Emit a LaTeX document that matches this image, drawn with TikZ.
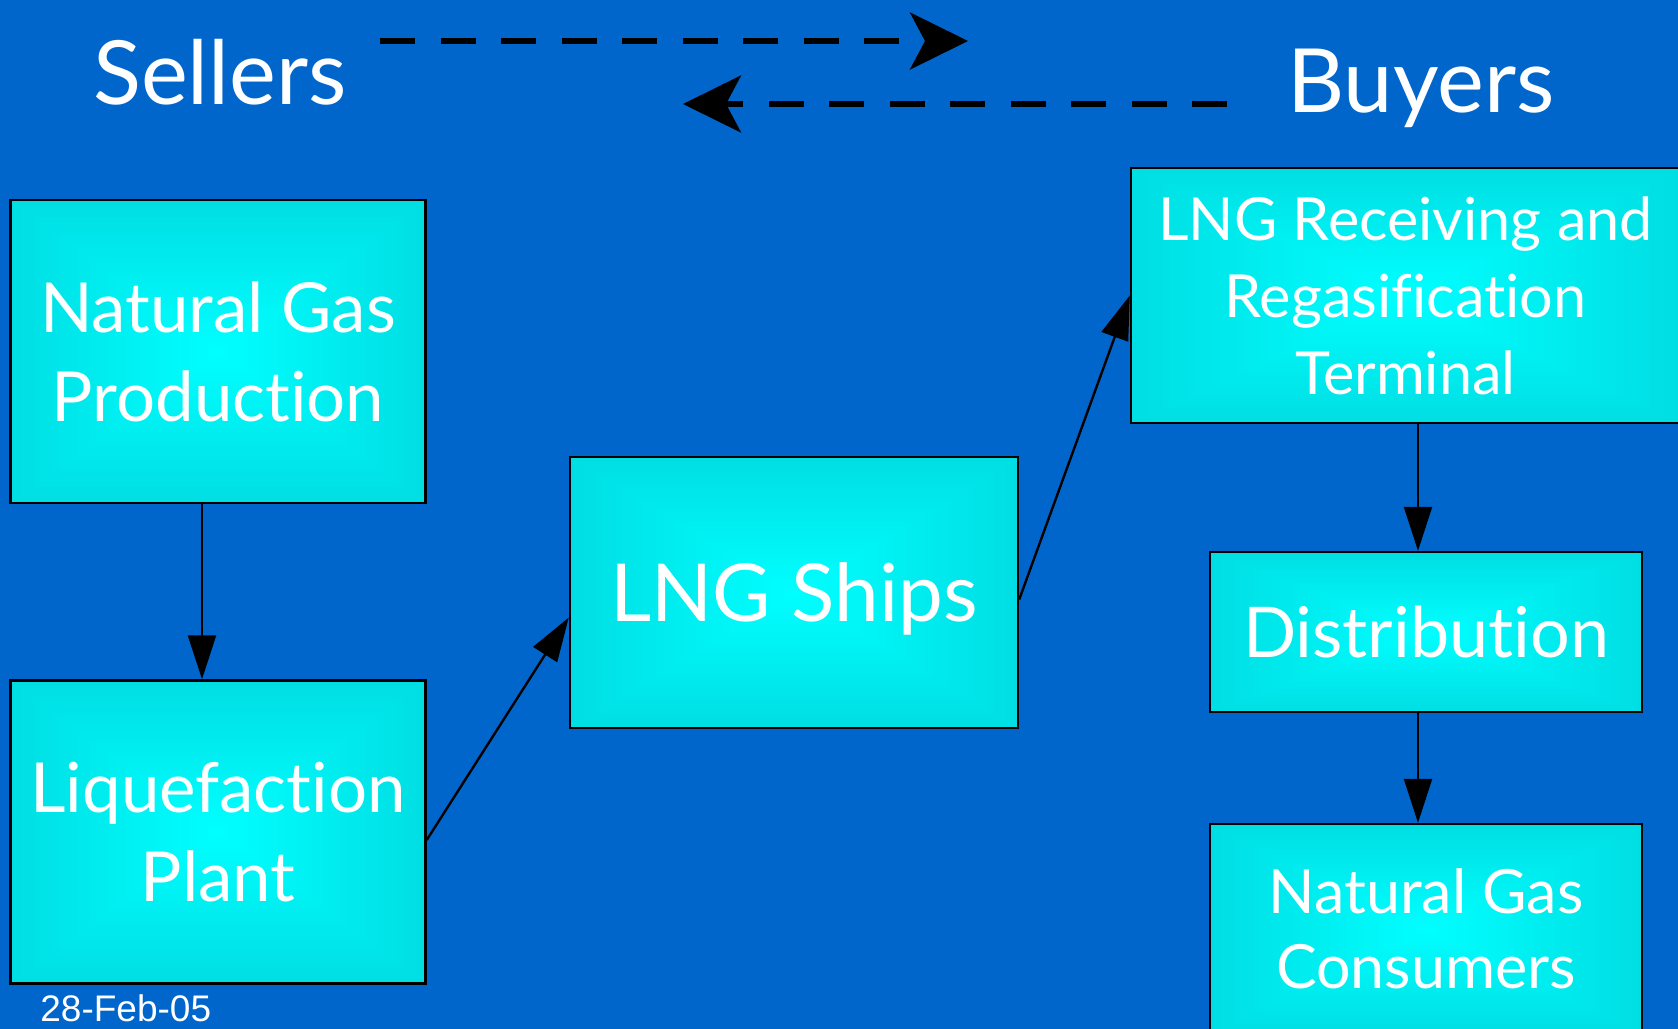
\documentclass[tikz,border=0pt]{standalone}
\usepackage{fontspec}
\setmainfont{Lato}[Ligatures=NoCommon]
\newfontfamily\datefont{Liberation Sans}
\usetikzlibrary{arrows.meta}
\definecolor{slidebg}{RGB}{0,102,204}
% cyan glow, brightest in the middle of the box
\pgfdeclarefunctionalshading{boxglow}{\pgfpoint{-50bp}{-50bp}}{\pgfpoint{50bp}{50bp}}{}{%
  abs exch abs 2 copy lt {exch} if pop
  50 div dup 0.26 mul 1 exch sub exch 0.22 mul 1 exch sub
  0 3 1 roll
}
\begin{document}
\begin{tikzpicture}
		[x=0.5pt,y=-0.5pt,
		stage/.style={rectangle,draw,line width=1.2pt,shade,shading=boxglow,text=white,align=center,inner sep=0pt},
		flow/.style={-{Triangle[length=22pt,width=14pt]},line width=1.2pt},
		trade/.style={dash pattern=on 17.5pt off 12.75pt,line width=2.75pt,-{Stealth[length=29pt,width=28.5pt,inset=7.5pt]}}]
		\useasboundingbox (0,0) rectangle (1678,1029);
		\clip (0,0) rectangle (1678,1029);
		\fill[slidebg] (0,0) rectangle (1678,1029);
		\node (Sellers) [anchor=base,text=white,font=\fontsize{44.3}{50}\selectfont] at (220,104) {Sellers};
		\node (Buyers) [anchor=base,text=white,font=\fontsize{44.3}{50}\selectfont] at (1421,112) {Buyers};
		\coordinate (SellStart) at (380,41);
		\coordinate (SellEnd) at (968,41);
		\coordinate (BuyStart) at (1227,104);
		\coordinate (BuyEnd) at (683,104);
		\draw[trade] (SellStart) -- (SellEnd);
		\draw[trade] (BuyStart) -- (BuyEnd);
		\node (GasProduction) [stage,minimum width=207.5pt,minimum height=151.5pt,font=\fontsize{34.5}{44.5}\selectfont] at (218,351.5) {Natural Gas\\Production};
		\node (LiqPlant) [stage,minimum width=207.5pt,minimum height=151.5pt,font=\fontsize{34.5}{44.5}\selectfont] at (218,832) {Liquefaction\\Plant};
		\node (Ships) [stage,minimum width=224pt,minimum height=135.5pt,text depth=0pt,font=\fontsize{40}{46}\selectfont] at (794,592.5) {LNG Ships};
		\node (Terminal) [stage,minimum width=274.5pt,minimum height=127.5pt,font=\fontsize{29.7}{38.5}\selectfont] at (1405.5,295.5) {LNG Receiving and\\Regasification\\Terminal};
		\node (Distribution) [stage,minimum width=216pt,minimum height=80pt,font=\fontsize{35}{42}\selectfont] at (1426,632) {Distribution};
		\node (Consumers) [stage,minimum width=216pt,minimum height=105pt,font=\fontsize{30.5}{37.5}\selectfont] at (1426,929) {Natural Gas\\Consumers};
		\node (Date) [anchor=base west,inner sep=0pt,text=white,font=\datefont\fontsize{18.5}{20}\selectfont] at (40,1021) {28-Feb-05};
		\draw[flow] ([xshift=-8pt]GasProduction.south) -- ([xshift=-8pt]LiqPlant.north);
		\draw[flow] ([yshift=-4pt]LiqPlant.east) -- ([yshift=-12.5pt]Ships.west);
		\draw[flow] ([yshift=-3.5pt]Ships.east) -- (Terminal.west);
		\draw[flow] ([xshift=-4pt]Distribution.north |- Terminal.south) -- ([xshift=-4pt]Distribution.north);
		\draw[flow] ([xshift=-4pt]Distribution.south) -- ([xshift=-4pt]Consumers.north);
	\end{tikzpicture}
\end{document}
